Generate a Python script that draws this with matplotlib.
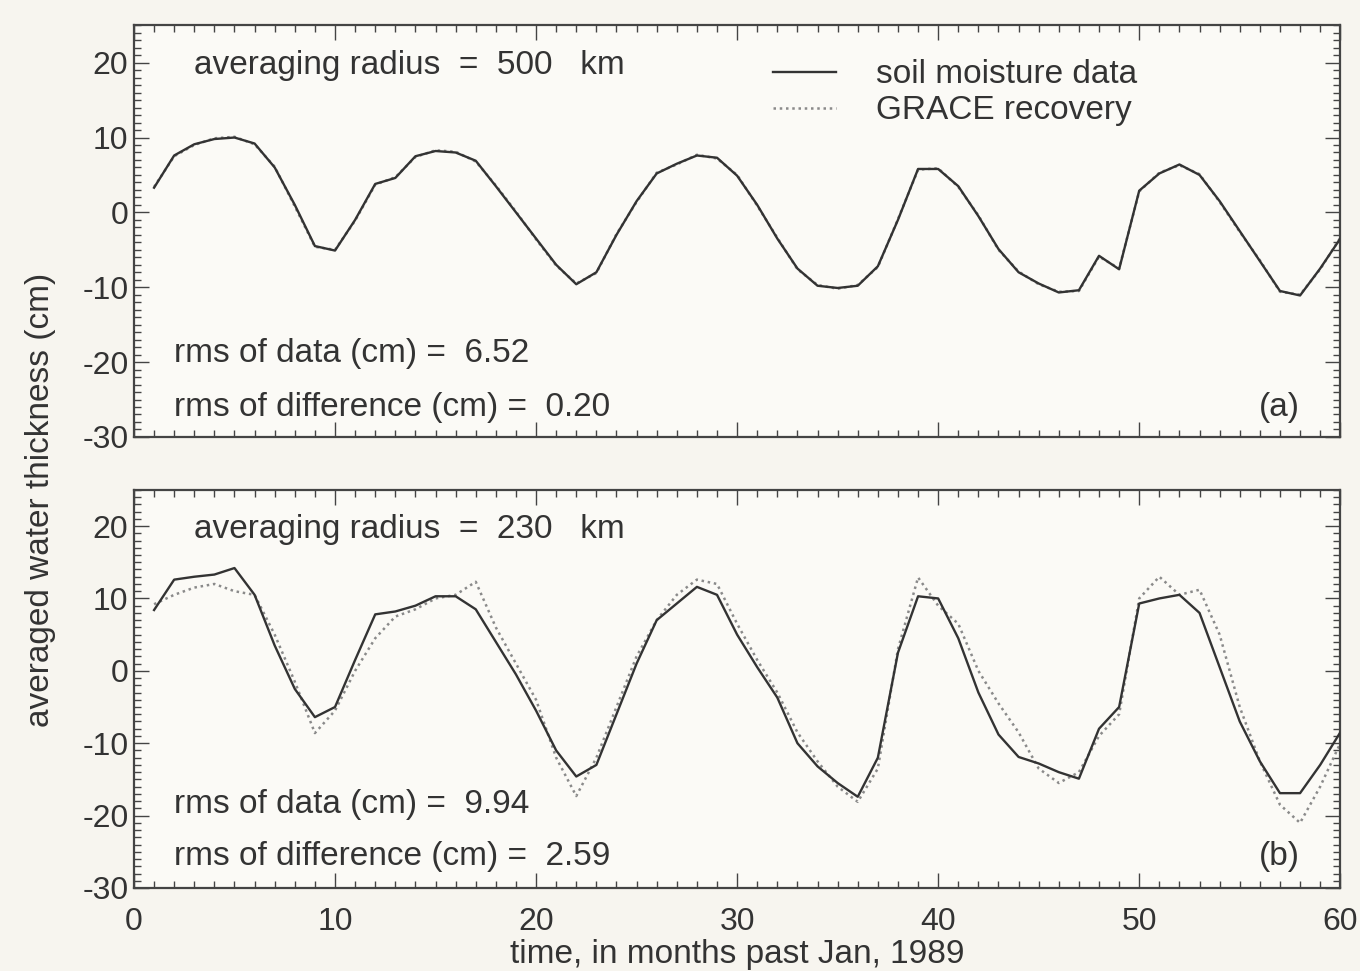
import matplotlib
matplotlib.use('Agg')
import matplotlib.pyplot as plt
from matplotlib.ticker import MultipleLocator
import numpy as np

plt.rcParams['font.family'] = ['Liberation Sans', 'DejaVu Sans']
plt.rcParams['axes.unicode_minus'] = False

# months past Jan 1989
months = list(range(1, 61))

# (a) averaging radius 500 km
soil_a = [3.3, 7.6, 9.1, 9.8, 10.0, 9.2, 6.0, 1.0, -4.5, -5.1,
          -1.0, 3.8, 4.6, 7.5, 8.2, 8.0, 6.9, 3.5, 0.0, -3.5,
          -7.0, -9.6, -8.0, -3.0, 1.5, 5.2, 6.5, 7.6, 7.3, 4.9,
          1.0, -3.5, -7.5, -9.8, -10.1, -9.8, -7.2, -1.0, 5.8, 5.8,
          3.5, -0.5, -4.9, -8.0, -9.5, -10.7, -10.4, -5.8, -7.6, 2.9,
          5.2, 6.4, 5.0, 1.5, -2.5, -6.5, -10.5, -11.1, -7.5, -3.5]
grace_a = [3.4, 7.5, 9.0, 9.9, 10.1, 9.1, 6.1, 0.8, -4.6, -5.0,
           -1.1, 3.7, 4.7, 7.4, 8.3, 8.1, 6.8, 3.6, 0.1, -3.6,
           -7.1, -9.5, -8.1, -2.9, 1.4, 5.3, 6.4, 7.7, 7.2, 5.0,
           0.9, -3.4, -7.6, -9.7, -10.2, -9.7, -7.3, -0.9, 5.7, 5.9,
           3.4, -0.4, -5.0, -7.9, -9.6, -10.6, -10.5, -5.9, -7.5, 2.8,
           5.3, 6.3, 5.1, 1.4, -2.6, -6.4, -10.6, -11.0, -7.6, -3.4]

# (b) averaging radius 230 km
soil_b = [8.4, 12.6, 13.0, 13.3, 14.2, 10.5, 3.5, -2.5, -6.4, -5.0,
          1.5, 7.8, 8.2, 9.0, 10.3, 10.3, 8.5, 4.0, -0.5, -5.5,
          -11.0, -14.6, -13.0, -6.0, 1.0, 7.0, 9.3, 11.6, 10.5, 5.0,
          0.5, -3.7, -10.0, -13.2, -15.5, -17.4, -12.0, 2.5, 10.3, 10.0,
          4.5, -3.0, -8.8, -11.9, -12.8, -14.0, -14.9, -8.0, -5.0, 9.3,
          10.0, 10.5, 8.0, 0.5, -7.0, -12.5, -16.9, -16.9, -13.0, -8.5]
grace_b = [9.2, 10.5, 11.5, 12.0, 11.0, 10.5, 5.0, -1.5, -8.6, -5.5,
           0.0, 4.5, 7.5, 8.5, 10.0, 10.5, 12.3, 6.0, 1.0, -4.0,
           -12.0, -17.3, -12.0, -5.0, 2.0, 7.0, 10.5, 12.6, 12.0, 6.5,
           1.5, -3.0, -8.5, -12.5, -16.0, -18.1, -13.5, 3.0, 12.9, 9.0,
           6.5, 0.0, -4.5, -8.5, -13.5, -15.5, -14.0, -9.0, -6.0, 10.0,
           13.0, 10.5, 11.2, 5.0, -5.0, -12.5, -18.5, -21.0, -16.0, -10.0]

radius = ['500', '230']
rms_data = ['6.52', '9.94']
rms_diff = ['0.20', '2.59']
panel_tag = ['(a)', '(b)']

ink = '#333333'
paper = '#f7f5ef'
fs = 24

fig = plt.figure(figsize=(13.6, 9.71), dpi=100, facecolor=paper)
ax_a = fig.add_axes([0.0985, 0.550, 0.887, 0.424])
ax_b = fig.add_axes([0.0985, 0.0855, 0.887, 0.410])

panels = [(ax_a, soil_a, grace_a), (ax_b, soil_b, grace_b)]
text_y = [(19.6, -18.9, -26.0), (19.5, -18.5, -25.6)]
for i, (ax, soil, grace) in enumerate(panels):
    ax.set_facecolor('#fbfaf6')
    l1, = ax.plot(months, soil, color='#333333', lw=1.7, label='soil moisture data', zorder=3)
    l2, = ax.plot(months, grace, color='#8a8a8a', lw=1.8, linestyle=(0, (1, 1.5)),
                  label='GRACE recovery', zorder=2)
    ax.set_xlim(0, 60)
    ax.set_ylim(-30, 25)
    ax.xaxis.set_major_locator(MultipleLocator(10))
    ax.xaxis.set_minor_locator(MultipleLocator(1))
    ax.yaxis.set_major_locator(MultipleLocator(10))
    ax.yaxis.set_minor_locator(MultipleLocator(1))
    ax.tick_params(which='both', direction='in', top=True, right=True, colors='#444444',
                   width=1.0, labelsize=23, labelcolor=ink)
    ax.tick_params(which='major', length=11, pad=4)
    ax.tick_params(which='minor', length=5)
    ax.tick_params(axis='x', which='major', pad=14)
    for s in ax.spines.values():
        s.set_color('#444444')
        s.set_linewidth(1.6)

    ty = text_y[i]
    ax.text(3.0, ty[0], 'averaging radius  =  %s   km' % radius[i], fontsize=fs,
            color=ink, va='center')
    ax.text(2.0, ty[1], 'rms of data (cm) =  %s' % rms_data[i], fontsize=fs,
            color=ink, va='center')
    ax.text(2.0, ty[2], 'rms of difference (cm) =  %s' % rms_diff[i], fontsize=fs,
            color=ink, va='center')
    ax.text(58.0, ty[2], panel_tag[i], fontsize=fs, color=ink, va='center', ha='right')

ax_a.tick_params(labelbottom=False)
ax_a.legend(handles=[l1, l2], loc='upper left', bbox_to_anchor=(0.505, 0.99),
            frameon=False, fontsize=fs, labelcolor=ink, handlelength=1.9,
            handletextpad=1.2, labelspacing=0.15)
ax_b.set_xlabel('time, in months past Jan, 1989', fontsize=fs, color=ink, labelpad=1)
fig.text(0.03, 0.485, 'averaged water thickness (cm)', rotation=90, fontsize=fs,
         color=ink, ha='center', va='center')

fig.savefig('out.png', dpi=100, facecolor=paper)
